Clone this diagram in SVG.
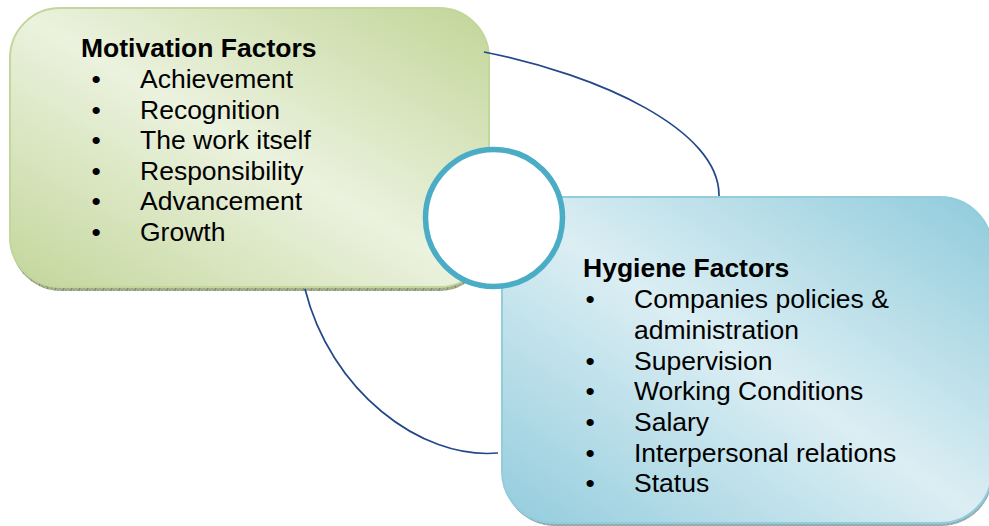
<svg xmlns="http://www.w3.org/2000/svg" width="989" height="526" viewBox="0 0 989 526">
  <defs>
    <linearGradient id="gradGreen" x1="1" y1="0" x2="0" y2="1">
      <stop offset="0" stop-color="#c2d598"/>
      <stop offset="0.5" stop-color="#ebf2de"/>
      <stop offset="1" stop-color="#c3d69b"/>
    </linearGradient>
    <linearGradient id="gradBlue" x1="1" y1="0" x2="0" y2="1">
      <stop offset="0" stop-color="#8fcbdc"/>
      <stop offset="0.5" stop-color="#dbeef3"/>
      <stop offset="1" stop-color="#93ccdd"/>
    </linearGradient>
    <pattern id="hatch" width="8" height="4" patternUnits="userSpaceOnUse">
      <rect width="8" height="4" fill="#a9b593"/>
      <path d="M0,0 L4,4 M4,0 L8,4 M4,0 L0,4 M8,0 L4,4" stroke="#8a9574" stroke-width="0.5"/>
      <path d="M7.5,0 V4" stroke="#6f7a5c" stroke-width="0.6"/>
    </pattern>
    <pattern id="hatchBlue" width="8" height="4" patternUnits="userSpaceOnUse">
      <rect width="8" height="4" fill="#9fb4ba"/>
      <path d="M0,0 L4,4 M4,0 L8,4 M4,0 L0,4 M8,0 L4,4" stroke="#7f9399" stroke-width="0.5"/>
    </pattern>
  </defs>
  <style>
    .title { font-family: "Liberation Sans", Arial, sans-serif; font-weight: bold; font-size: 26.5px; fill: #000; }
    .item { font-family: "Liberation Sans", Arial, sans-serif; font-size: 26.5px; fill: #000; }
    .link { fill: none; stroke: #22488a; stroke-width: 1.7; }
  </style>

  <g id="motivation">
    <rect x="11" y="12" width="478" height="279" rx="50" fill="url(#hatch)"/>
    <rect x="10" y="8" width="479" height="279" rx="50" fill="url(#gradGreen)" stroke="#c3d69b" stroke-width="2"/>
    <text class="title" x="81" y="57">Motivation Factors</text>
    <text class="item" x="91.5" y="88">•</text><text class="item" x="140" y="88">Achievement</text>
    <text class="item" x="91.5" y="118.5">•</text><text class="item" x="140" y="118.5">Recognition</text>
    <text class="item" x="91.5" y="149">•</text><text class="item" x="140" y="149">The work itself</text>
    <text class="item" x="91.5" y="179.5">•</text><text class="item" x="140" y="179.5">Responsibility</text>
    <text class="item" x="91.5" y="210">•</text><text class="item" x="140" y="210">Advancement</text>
    <text class="item" x="91.5" y="241">•</text><text class="item" x="140" y="241">Growth</text>
  </g>

  <g id="hygiene">
    <rect x="503" y="200" width="490" height="326" rx="52" fill="url(#hatchBlue)"/>
    <rect x="502" y="197" width="490" height="326" rx="52" fill="url(#gradBlue)" stroke="#92cddc" stroke-width="2"/>
    <text class="title" x="583" y="277">Hygiene Factors</text>
    <text class="item" x="585.5" y="308">•</text><text class="item" x="634" y="308">Companies policies &amp;</text>
    <text class="item" x="634" y="339">administration</text>
    <text class="item" x="585.5" y="370">•</text><text class="item" x="634" y="370">Supervision</text>
    <text class="item" x="585.5" y="400">•</text><text class="item" x="634" y="400">Working Conditions</text>
    <text class="item" x="585.5" y="431">•</text><text class="item" x="634" y="431">Salary</text>
    <text class="item" x="585.5" y="462">•</text><text class="item" x="634" y="462">Interpersonal relations</text>
    <text class="item" x="585.5" y="492">•</text><text class="item" x="634" y="492">Status</text>
  </g>

  <g id="connectors">
    <path class="link" d="M484,52 C600,75 720,130 719,196"/>
    <path class="link" d="M305,289 C330,390 420,460 498,453"/>
  </g>

  <g id="hub">
    <circle cx="494" cy="218" r="68.5" fill="#fff" stroke="#4bacc6" stroke-width="5.5"/>
  </g>
</svg>
